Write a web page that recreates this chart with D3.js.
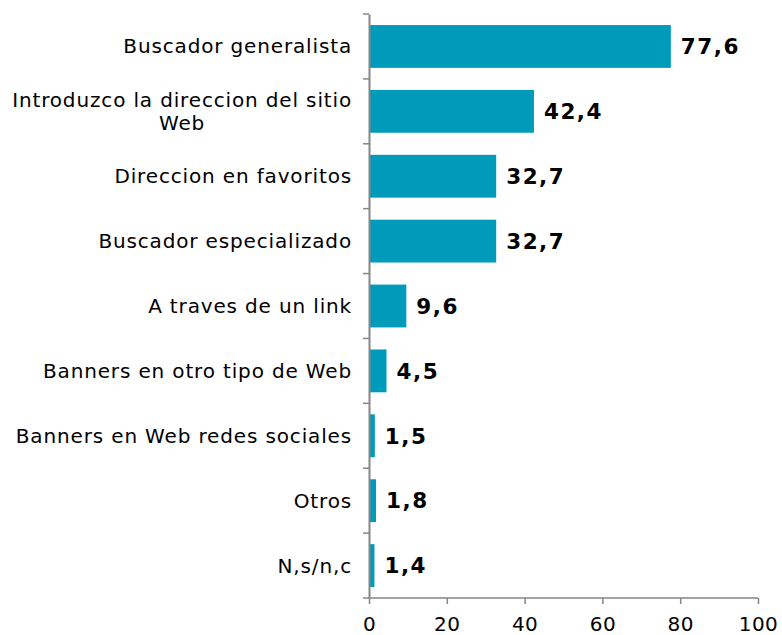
<!DOCTYPE html>
<html><head><meta charset="utf-8">
<script src="https://cdn.jsdelivr.net/npm/d3@7"></script>
<style>body{margin:0;background:#fff;} text{font-family:"DejaVu Sans",Verdana,sans-serif;}</style>
</head><body>
<svg id="c" width="782" height="635"></svg>
<script>
const categories = ["Buscador generalista","Introduzco la direccion del sitio\nWeb","Direccion en favoritos","Buscador especializado","A traves de un link","Banners en otro tipo de Web","Banners en Web redes sociales","Otros","N,s/n,c"];
const values = [77.6,42.4,32.7,32.7,9.6,4.5,1.5,1.8,1.4];
const valueLabels = ["77,6","42,4","32,7","32,7","9,6","4,5","1,5","1,8","1,4"];
const xTicks = [0,20,40,60,80,100];

const svg = d3.select("#c");
const x = d3.scaleLinear().domain([0,100]).range([369,758]);
const y = d3.scaleBand().domain(categories).range([14,598]).paddingInner(0.34).paddingOuter(0.17);
const axisColor = "#868686";

// bars
svg.selectAll("rect.bar").data(values).enter().append("rect")
  .attr("x", x(0)).attr("y",(d,i)=>y(categories[i]))
  .attr("width",d=>x(d)-x(0)).attr("height",y.bandwidth())
  .attr("fill","#009BBB");

// y axis
const yAxis = d3.axisLeft(y).tickSize(0).tickFormat("");
const gy = svg.append("g").attr("transform",`translate(${x(0)},0)`).call(yAxis);
gy.select(".domain").attr("stroke",axisColor).attr("stroke-width",2);
for(let i=0;i<=categories.length;i++){
  const yy = 14 + i*(584/categories.length);
  svg.append("line").attr("x1",x(0)-6).attr("x2",x(0)).attr("y1",yy).attr("y2",yy).attr("stroke",axisColor).attr("stroke-width",1.5);
}
// x axis
const gx = svg.append("g").attr("transform","translate(0,598)").call(d3.axisBottom(x).tickValues(xTicks).tickSize(6).tickPadding(13));
gx.select(".domain").attr("stroke",axisColor).attr("stroke-width",1.5).attr("d",`M${x(0)},0H${x(100)}`);
gx.selectAll(".tick line").attr("stroke",axisColor).attr("stroke-width",1.5);
gx.selectAll(".tick text").attr("font-size",20).attr("fill","#000").attr("font-family","DejaVu Sans").attr("letter-spacing","0.5px");

// category labels
const labelX = 352, fs = 20, ls = "0.85px";
categories.forEach((c,i)=>{
  const lines = c.split("\n");
  const cy = y(c)+y.bandwidth()/2;
  if(lines.length===1){
    svg.append("text").attr("x",labelX).attr("y",cy).attr("dy","0.35em").attr("text-anchor","end")
      .attr("font-size",fs).attr("letter-spacing",ls).text(c);
  } else {
    const t1 = svg.append("text").attr("x",labelX).attr("y",cy-11.5).attr("dy","0.35em").attr("text-anchor","end")
      .attr("font-size",fs).attr("letter-spacing",ls).text(lines[0]);
    const w = t1.node().getBBox().width;
    svg.append("text").attr("x",labelX-w/2).attr("y",cy+11.5).attr("dy","0.35em").attr("text-anchor","middle")
      .attr("font-size",fs).attr("letter-spacing",ls).text(lines[1]);
  }
});

// value labels
values.forEach((v,i)=>{
  svg.append("text").attr("x",x(v)+10).attr("y",y(categories[i])+y.bandwidth()/2).attr("dy","0.36em")
    .attr("font-size",21.5).attr("font-weight","bold").attr("letter-spacing","1.5px").attr("fill","#000").text(valueLabels[i]);
});
</script>
</body></html>
